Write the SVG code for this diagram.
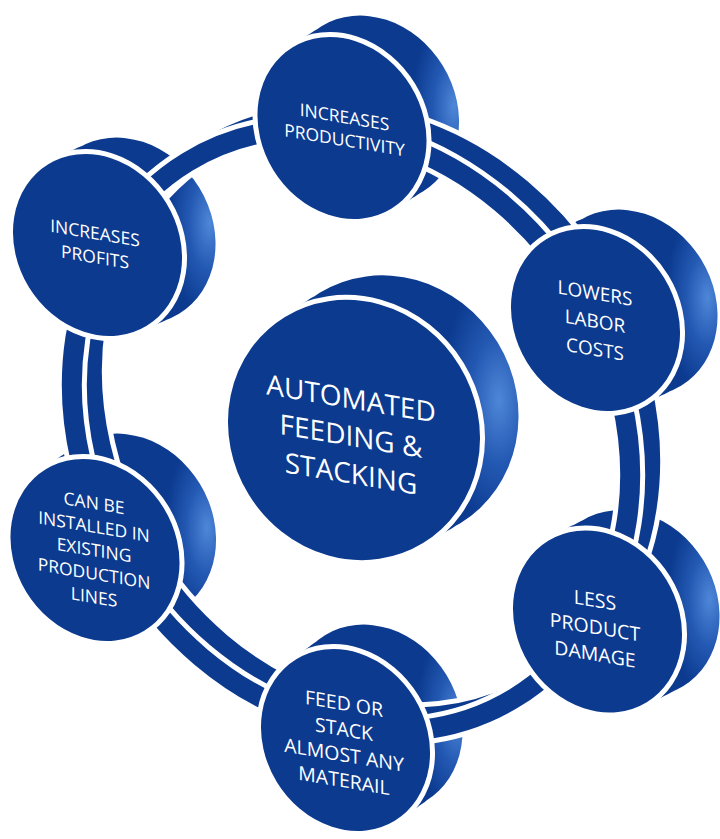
<svg xmlns="http://www.w3.org/2000/svg" width="720" height="839" viewBox="0 0 720 839">
<defs>
<style>
.face{fill:#0b3a8f;stroke:#fff;stroke-width:5}
.sideS{fill:url(#gradS)}
.sideC{fill:url(#gradC)}
.ringw{fill:none;stroke:#fff;stroke-width:30}
.ringn{fill:none;stroke:#0b3a8f;stroke-width:20}
.lbl{font-family:'Open Sans','Liberation Sans',sans-serif;fill:#fff;text-anchor:middle}
.s{font-size:17.5px}
.m{font-size:19.5px}
.l{font-size:28px}
</style>
<radialGradient id="gradS" gradientUnits="userSpaceOnUse" cx="0" cy="0" r="1" gradientTransform="translate(112,-22) scale(42,95)">
<stop offset="0" stop-color="#4e87d8"/>
<stop offset="0.5" stop-color="#2358b2"/>
<stop offset="1" stop-color="#0b3a8f"/>
</radialGradient>
<radialGradient id="gradC" gradientUnits="userSpaceOnUse" cx="0" cy="0" r="1" gradientTransform="translate(145,-30) scale(58,130)">
<stop offset="0" stop-color="#4e87d8"/>
<stop offset="0.5" stop-color="#2358b2"/>
<stop offset="1" stop-color="#0b3a8f"/>
</radialGradient>
</defs>
<rect width="720" height="839" fill="#fff"/>

<g id="sides">
<g id="side-productivity" transform="translate(342,128)"><path class="sideS" d="M-43.04,-87.55a97,83 58.6 1,1 101.08,165.6a97,83 58.6 1,1 -101.08,-165.6zM-35.54,-92.3a97,83 58.6 1,1 101.08,165.6a97,83 58.6 1,1 -101.08,-165.6zM-28.04,-97.05a97,83 58.6 1,1 101.08,165.6a97,83 58.6 1,1 -101.08,-165.6zM-20.54,-101.8a97,83 58.6 1,1 101.08,165.6a97,83 58.6 1,1 -101.08,-165.6z"/></g>
<g id="side-labor" transform="translate(595.5,320)"><path class="sideS" d="M-41.79,-87.05a97,83 58.6 1,1 101.08,165.6a97,83 58.6 1,1 -101.08,-165.6zM-33.04,-91.3a97,83 58.6 1,1 101.08,165.6a97,83 58.6 1,1 -101.08,-165.6zM-24.29,-95.55a97,83 58.6 1,1 101.08,165.6a97,83 58.6 1,1 -101.08,-165.6zM-15.54,-99.8a97,83 58.6 1,1 101.08,165.6a97,83 58.6 1,1 -101.08,-165.6z"/></g>
<g id="side-damage" transform="translate(597.5,621.5)"><path class="sideS" d="M-41.79,-87.3a97,83 58.6 1,1 101.08,165.6a97,83 58.6 1,1 -101.08,-165.6zM-33.04,-91.8a97,83 58.6 1,1 101.08,165.6a97,83 58.6 1,1 -101.08,-165.6zM-24.29,-96.3a97,83 58.6 1,1 101.08,165.6a97,83 58.6 1,1 -101.08,-165.6zM-15.54,-100.8a97,83 58.6 1,1 101.08,165.6a97,83 58.6 1,1 -101.08,-165.6z"/></g>
<g id="side-material" transform="translate(345.5,740)"><path class="sideS" d="M-43.04,-88.3a97,83 58.6 1,1 101.08,165.6a97,83 58.6 1,1 -101.08,-165.6zM-35.54,-93.8a97,83 58.6 1,1 101.08,165.6a97,83 58.6 1,1 -101.08,-165.6zM-28.04,-99.3a97,83 58.6 1,1 101.08,165.6a97,83 58.6 1,1 -101.08,-165.6zM-20.54,-104.8a97,83 58.6 1,1 101.08,165.6a97,83 58.6 1,1 -101.08,-165.6z"/></g>
<g id="side-installed" transform="translate(95,550)"><path class="sideS" d="M-42.04,-88.55a97,83 58.6 1,1 101.08,165.6a97,83 58.6 1,1 -101.08,-165.6zM-33.54,-94.3a97,83 58.6 1,1 101.08,165.6a97,83 58.6 1,1 -101.08,-165.6zM-25.04,-100.05a97,83 58.6 1,1 101.08,165.6a97,83 58.6 1,1 -101.08,-165.6zM-16.54,-105.8a97,83 58.6 1,1 101.08,165.6a97,83 58.6 1,1 -101.08,-165.6z"/></g>
<g id="side-profits" transform="translate(97.5,245)"><path class="sideS" d="M-42.79,-86.3a97,83 58.6 1,1 101.08,165.6a97,83 58.6 1,1 -101.08,-165.6zM-35.04,-89.8a97,83 58.6 1,1 101.08,165.6a97,83 58.6 1,1 -101.08,-165.6zM-27.29,-93.3a97,83 58.6 1,1 101.08,165.6a97,83 58.6 1,1 -101.08,-165.6zM-19.54,-96.8a97,83 58.6 1,1 101.08,165.6a97,83 58.6 1,1 -101.08,-165.6z"/></g>
<g id="side-center" transform="translate(354,430)"><path class="sideC" d="M-61.34,-120.74a135,126 58.6 1,1 140.68,230.48a135,126 58.6 1,1 -140.68,-230.48zM-52.34,-126.24a135,126 58.6 1,1 140.68,230.48a135,126 58.6 1,1 -140.68,-230.48zM-43.34,-131.74a135,126 58.6 1,1 140.68,230.48a135,126 58.6 1,1 -140.68,-230.48zM-34.34,-137.24a135,126 58.6 1,1 140.68,230.48a135,126 58.6 1,1 -140.68,-230.48z"/></g>
</g>

<g id="connectors">
<ellipse class="ringw" cx="371" cy="416" rx="314" ry="265" transform="rotate(58.6 371 416)"/>
<ellipse class="ringn" cx="371" cy="416" rx="314" ry="265" transform="rotate(58.6 371 416)"/>
<ellipse class="ringw" cx="351" cy="430" rx="314" ry="265" transform="rotate(58.6 351 430)"/>
<ellipse class="ringn" cx="351" cy="430" rx="314" ry="265" transform="rotate(58.6 351 430)"/>
</g>

<g id="node-productivity">
<ellipse class="face" cx="342" cy="128" rx="97" ry="83" transform="rotate(58.6 342 128)"/>
<g transform="translate(344.5,128.5) skewY(9.5)"><text class="lbl s" y="-5.25">INCREASES</text><text class="lbl s" y="17.75">PRODUCTIVITY</text></g>
</g>
<g id="node-labor">
<ellipse class="face" cx="595.5" cy="320" rx="97" ry="83" transform="rotate(58.6 595.5 320)"/>
<g transform="translate(595,321) skewY(9.5)"><text class="lbl" font-size="19" y="-21.2">LOWERS</text><text class="lbl" font-size="19" y="6.8">LABOR</text><text class="lbl" font-size="19" y="34.8">COSTS</text></g>
</g>
<g id="node-damage">
<ellipse class="face" cx="597.5" cy="621.5" rx="97" ry="83" transform="rotate(58.6 597.5 621.5)"/>
<g transform="translate(595,627) skewY(9.5)"><text class="lbl m" y="-20.04">LESS</text><text class="lbl m" y="6.96">PRODUCT</text><text class="lbl m" y="33.96">DAMAGE</text></g>
</g>
<g id="node-material">
<ellipse class="face" cx="345.5" cy="740" rx="97" ry="83" transform="rotate(58.6 345.5 740)"/>
<g transform="translate(344,742) skewY(9.5)"><text class="lbl m" y="-31.54">FEED OR</text><text class="lbl m" y="-5.84">STACK</text><text class="lbl m" y="19.76">ALMOST ANY</text><text class="lbl m" y="45.46">MATERAIL</text></g>
</g>
<g id="node-installed">
<ellipse class="face" cx="95" cy="550" rx="97" ry="83" transform="rotate(58.6 95 550)"/>
<g transform="translate(94,550) skewY(9.5)"><text class="lbl s" y="-40.75">CAN BE</text><text class="lbl s" y="-17.25">INSTALLED IN</text><text class="lbl s" y="6.25">EXISTING</text><text class="lbl s" y="29.75">PRODUCTION</text><text class="lbl s" y="53.25">LINES</text></g>
</g>
<g id="node-profits">
<ellipse class="face" cx="97.5" cy="245" rx="97" ry="83" transform="rotate(58.6 97.5 245)"/>
<g transform="translate(95,245) skewY(9.5)"><text class="lbl s" y="-5.75">INCREASES</text><text class="lbl s" y="18.25">PROFITS</text></g>
</g>
<g id="node-center">
<ellipse class="face" cx="354" cy="430" rx="135" ry="126" transform="rotate(58.6 354 430)"/>
<g transform="translate(351,436) skewY(9.5)"><text class="lbl l" y="-27.5">AUTOMATED</text><text class="lbl l" y="10">FEEDING &amp;</text><text class="lbl l" y="47.5">STACKING</text></g>
</g>
</svg>
